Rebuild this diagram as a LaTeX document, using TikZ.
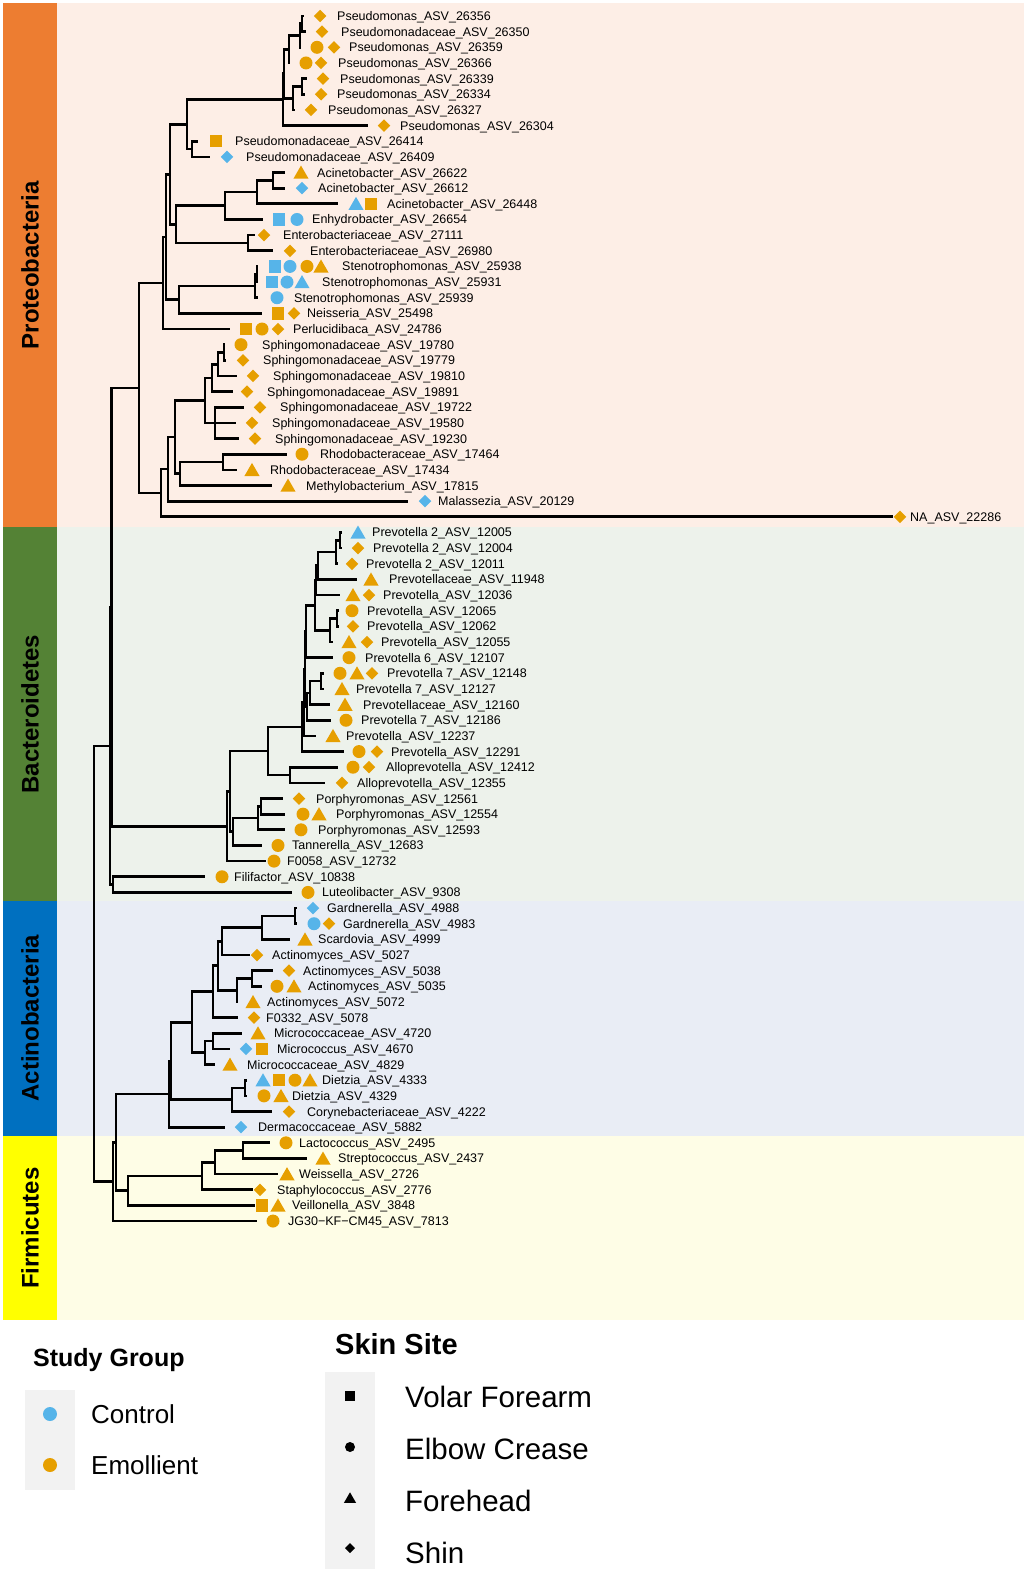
\documentclass[tikz,border=0pt]{standalone}
\usepackage{fontspec}
\setmainfont{Liberation Sans}
\usetikzlibrary{calc,shapes.geometric}
\definecolor{cO}{HTML}{E69F00}
\definecolor{cB}{HTML}{56B4E9}
\definecolor{bgP}{HTML}{FDEEE6}
\definecolor{bgB}{HTML}{EDF2EB}
\definecolor{bgA}{HTML}{E9EDF5}
\definecolor{bgF}{HTML}{FEFDE6}
\definecolor{barP}{HTML}{ED7D31}
\definecolor{barB}{HTML}{548235}
\definecolor{barA}{HTML}{0070C0}
\definecolor{barF}{HTML}{FFFF00}
\definecolor{keybg}{HTML}{F2F2F2}
\pgfmathdeclarefunction{ty}{1}{\pgfmathparse{16+15.65*(#1-1)}}
\tikzset{
  br/.style={line width=2.7pt, draw=black},
  lab/.style={anchor=base west, inner sep=0pt, font=\fontsize{12.5}{14}\selectfont},
  mkb/.style={inner sep=0pt, outer sep=0pt, draw=none},
  mdia/.style={mkb, diamond, minimum width=12.5pt, minimum height=12.5pt},
  mcir/.style={mkb, circle, minimum size=13pt},
  msq/.style={mkb, rectangle, minimum size=12.5pt},
  mtri/.style={mkb, regular polygon, regular polygon sides=3, minimum size=17.5pt, yshift=-1.8pt},
  Od/.style={mdia, fill=cO}, Bd/.style={mdia, fill=cB},
  Oc/.style={mcir, fill=cO}, Bc/.style={mcir, fill=cB},
  Os/.style={msq, fill=cO}, Bs/.style={msq, fill=cB},
  Ot/.style={mtri, fill=cO}, Bt/.style={mtri, fill=cB},
  phyl/.style={rotate=90, inner sep=0pt, font=\bfseries\fontsize{24}{28}\selectfont},
  legh/.style={anchor=base west, inner sep=0pt, font=\bfseries\fontsize{25}{30}\selectfont},
  legt/.style={anchor=base west, inner sep=0pt, font=\fontsize{26}{30}\selectfont},
  legs/.style={anchor=base west, inner sep=0pt, font=\fontsize{29.5}{34}\selectfont},
}
\newcommand\tip[4]{\coordinate (t#1) at (#2,{-ty(#1)});
  \node[lab] (l#1) at (#3,{-ty(#1)-4.5}) {#4};}
\newcommand\mk[3]{\node[#2] (m#1x#3) at (#3,{-ty(#1)}) {};}
\newcommand\inode[4]{%
  \path let \p1=($(#3)!.5!(#4)$) in (#2pt,\y1) coordinate (#1);
  \draw[br] (#1) |- (#3) (#1) |- (#4);}
\newcommand\inodeiii[5]{%
  \path let \p1=($(#3)!.5!(#5)$) in (#2pt,\y1) coordinate (#1);
  \draw[br] (#1) |- (#3) (#1) |- (#4) (#1) |- (#5);}
\begin{document}
\begin{tikzpicture}[x=1pt,y=1pt]
\useasboundingbox (0,0) rectangle (1024,-1569);
% bands
\fill[bgP] (57,-3) rectangle (1024,-527);
\fill[bgB] (57,-527) rectangle (1024,-901);
\fill[bgA] (57,-901) rectangle (1024,-1136);
\fill[bgF] (57,-1136) rectangle (1024,-1320);
\fill[barP] (3,-3) rectangle (57,-527);
\fill[barB] (3,-527) rectangle (57,-901);
\fill[barA] (3,-901) rectangle (57,-1136);
\fill[barF] (3,-1136) rectangle (57,-1320);
\node[phyl] (pP) at (30,-265) {Proteobacteria};
\node[phyl] (pB) at (30,-714) {Bacteroidetes};
\node[phyl] (pA) at (30,-1018) {Actinobacteria};
\node[phyl] (pF) at (30,-1228) {Firmicutes};
% tips
\tip{1}{304}{337}{Pseudomonas\_ASV\_26356}\mk{1}{Od}{320}
\tip{2}{306}{341}{Pseudomonadaceae\_ASV\_26350}\mk{2}{Od}{322}
\tip{3}{301}{349}{Pseudomonas\_ASV\_26359}\mk{3}{Oc}{317}\mk{3}{Od}{334}
\tip{4}{290}{338}{Pseudomonas\_ASV\_26366}\mk{4}{Oc}{306}\mk{4}{Od}{321}
\tip{5}{307}{340}{Pseudomonas\_ASV\_26339}\mk{5}{Od}{323}
\tip{6}{305}{337}{Pseudomonas\_ASV\_26334}\mk{6}{Od}{321}
\tip{7}{295}{328}{Pseudomonas\_ASV\_26327}\mk{7}{Od}{311}
\tip{8}{368}{400}{Pseudomonas\_ASV\_26304}\mk{8}{Od}{384}
\tip{9}{198}{235}{Pseudomonadaceae\_ASV\_26414}\mk{9}{Os}{216}
\tip{10}{210}{246}{Pseudomonadaceae\_ASV\_26409}\mk{10}{Bd}{227}
\tip{11}{285}{317}{Acinetobacter\_ASV\_26622}\mk{11}{Ot}{301}
\tip{12}{285}{318}{Acinetobacter\_ASV\_26612}\mk{12}{Bd}{302}
\tip{13}{338}{387}{Acinetobacter\_ASV\_26448}\mk{13}{Bt}{356}\mk{13}{Os}{371}
\tip{14}{263}{312}{Enhydrobacter\_ASV\_26654}\mk{14}{Bs}{279}\mk{14}{Bc}{297}
\tip{15}{255}{283}{Enterobacteriaceae\_ASV\_27111}\mk{15}{Od}{264}
\tip{16}{273}{310}{Enterobacteriaceae\_ASV\_26980}\mk{16}{Od}{290}
\tip{17}{258}{342}{Stenotrophomonas\_ASV\_25938}\mk{17}{Bs}{275}\mk{17}{Bc}{290}\mk{17}{Oc}{307}\mk{17}{Ot}{321}
\tip{18}{258}{322}{Stenotrophomonas\_ASV\_25931}\mk{18}{Bs}{272}\mk{18}{Bc}{287}\mk{18}{Bt}{302}
\tip{19}{258}{294}{Stenotrophomonas\_ASV\_25939}\mk{19}{Bc}{277}
\tip{20}{262}{307}{Neisseria\_ASV\_25498}\mk{20}{Os}{278}\mk{20}{Od}{294}
\tip{21}{230}{293}{Perlucidibaca\_ASV\_24786}\mk{21}{Os}{246}\mk{21}{Oc}{262}\mk{21}{Od}{278}
\tip{22}{225}{262}{Sphingomonadaceae\_ASV\_19780}\mk{22}{Oc}{241}
\tip{23}{226}{263}{Sphingomonadaceae\_ASV\_19779}\mk{23}{Od}{243}
\tip{24}{237}{273}{Sphingomonadaceae\_ASV\_19810}\mk{24}{Od}{253}
\tip{25}{233}{267}{Sphingomonadaceae\_ASV\_19891}\mk{25}{Od}{247}
\tip{26}{244}{280}{Sphingomonadaceae\_ASV\_19722}\mk{26}{Od}{260}
\tip{27}{236}{272}{Sphingomonadaceae\_ASV\_19580}\mk{27}{Od}{252}
\tip{28}{239}{275}{Sphingomonadaceae\_ASV\_19230}\mk{28}{Od}{255}
\tip{29}{287}{320}{Rhodobacteraceae\_ASV\_17464}\mk{29}{Oc}{302}
\tip{30}{237}{270}{Rhodobacteraceae\_ASV\_17434}\mk{30}{Ot}{252}
\tip{31}{272}{306}{Methylobacterium\_ASV\_17815}\mk{31}{Ot}{288}
\tip{32}{408}{438}{Malassezia\_ASV\_20129}\mk{32}{Bd}{425}
\tip{33}{893}{910}{NA\_ASV\_22286}\mk{33}{Od}{900}
\tip{34}{342}{372}{Prevotella 2\_ASV\_12005}\mk{34}{Bt}{358}
\tip{35}{342}{373}{Prevotella 2\_ASV\_12004}\mk{35}{Od}{358}
\tip{36}{338}{366}{Prevotella 2\_ASV\_12011}\mk{36}{Od}{352}
\tip{37}{357}{389}{Prevotellaceae\_ASV\_11948}\mk{37}{Ot}{371}
\tip{38}{340}{383}{Prevotella\_ASV\_12036}\mk{38}{Ot}{353}\mk{38}{Od}{369}
\tip{39}{339}{367}{Prevotella\_ASV\_12065}\mk{39}{Oc}{352}
\tip{40}{339}{367}{Prevotella\_ASV\_12062}\mk{40}{Od}{353}
\tip{41}{333}{381}{Prevotella\_ASV\_12055}\mk{41}{Ot}{349}\mk{41}{Od}{367}
\tip{42}{333}{365}{Prevotella 6\_ASV\_12107}\mk{42}{Oc}{349}
\tip{43}{324}{387}{Prevotella 7\_ASV\_12148}\mk{43}{Oc}{340}\mk{43}{Ot}{357}\mk{43}{Od}{372}
\tip{44}{324}{356}{Prevotella 7\_ASV\_12127}\mk{44}{Ot}{342}
\tip{45}{330}{363}{Prevotellaceae\_ASV\_12160}\mk{45}{Ot}{345}
\tip{46}{331}{361}{Prevotella 7\_ASV\_12186}\mk{46}{Oc}{346}
\tip{47}{316}{346}{Prevotella\_ASV\_12237}\mk{47}{Ot}{333}
\tip{48}{344}{391}{Prevotella\_ASV\_12291}\mk{48}{Oc}{359}\mk{48}{Od}{377}
\tip{49}{338}{386}{Alloprevotella\_ASV\_12412}\mk{49}{Oc}{353}\mk{49}{Od}{369}
\tip{50}{325}{357}{Alloprevotella\_ASV\_12355}\mk{50}{Od}{342}
\tip{51}{283}{316}{Porphyromonas\_ASV\_12561}\mk{51}{Od}{299}
\tip{52}{285}{336}{Porphyromonas\_ASV\_12554}\mk{52}{Oc}{303}\mk{52}{Ot}{319}
\tip{53}{285}{318}{Porphyromonas\_ASV\_12593}\mk{53}{Oc}{301}
\tip{54}{262}{292}{Tannerella\_ASV\_12683}\mk{54}{Oc}{278}
\tip{55}{266}{287}{F0058\_ASV\_12732}\mk{55}{Oc}{274}
\tip{56}{205}{234}{Filifactor\_ASV\_10838}\mk{56}{Oc}{222}
\tip{57}{292}{322}{Luteolibacter\_ASV\_9308}\mk{57}{Oc}{308}
\tip{58}{297}{327}{Gardnerella\_ASV\_4988}\mk{58}{Bd}{313}
\tip{59}{297}{343}{Gardnerella\_ASV\_4983}\mk{59}{Bc}{314}\mk{59}{Od}{329}
\tip{60}{290}{318}{Scardovia\_ASV\_4999}\mk{60}{Ot}{305}
\tip{61}{250}{272}{Actinomyces\_ASV\_5027}\mk{61}{Od}{257}
\tip{62}{273}{303}{Actinomyces\_ASV\_5038}\mk{62}{Od}{289}
\tip{63}{262}{308}{Actinomyces\_ASV\_5035}\mk{63}{Oc}{277}\mk{63}{Ot}{294}
\tip{64}{238}{267}{Actinomyces\_ASV\_5072}\mk{64}{Ot}{253}
\tip{65}{238}{266}{F0332\_ASV\_5078}\mk{65}{Od}{254}
\tip{66}{242}{274}{Micrococcaceae\_ASV\_4720}\mk{66}{Ot}{258}
\tip{67}{230}{277}{Micrococcus\_ASV\_4670}\mk{67}{Bd}{246}\mk{67}{Os}{262}
\tip{68}{215}{247}{Micrococcaceae\_ASV\_4829}\mk{68}{Ot}{230}
\tip{69}{247}{322}{Dietzia\_ASV\_4333}\mk{69}{Bt}{263}\mk{69}{Os}{279}\mk{69}{Oc}{295}\mk{69}{Ot}{310}
\tip{70}{247}{292}{Dietzia\_ASV\_4329}\mk{70}{Oc}{264}\mk{70}{Ot}{281}
\tip{71}{272}{307}{Corynebacteriaceae\_ASV\_4222}\mk{71}{Od}{289}
\tip{72}{225}{258}{Dermacoccaceae\_ASV\_5882}\mk{72}{Bd}{241}
\tip{73}{270}{299}{Lactococcus\_ASV\_2495}\mk{73}{Oc}{286}
\tip{74}{307}{338}{Streptococcus\_ASV\_2437}\mk{74}{Ot}{323}
\tip{75}{278}{299}{Weissella\_ASV\_2726}\mk{75}{Ot}{287}
\tip{76}{253}{277}{Staphylococcus\_ASV\_2776}\mk{76}{Od}{260}
\tip{77}{255}{292}{Veillonella\_ASV\_3848}\mk{77}{Os}{262}\mk{77}{Ot}{278}
\tip{78}{257}{288}{JG30−KF−CM45\_ASV\_7813}\mk{78}{Oc}{273}
% Proteobacteria tree
\inode{A12}{302}{t1}{t2}
\inode{B3}{300}{A12}{t3}
\inode{C4}{289}{B3}{t4}
\inode{F56}{302}{t5}{t6}
\inode{E7}{293}{F56}{t7}
\inode{D1}{284}{C4}{E7}
\inode{D2}{283}{D1}{t8}
\inode{N910}{192}{t9}{t10}
\inode{G}{187}{D2}{N910}
\inode{N1112}{273}{t11}{t12}
\inode{Nac}{257}{N1112}{t13}
\inode{Nace}{225}{Nac}{t14}
\inode{Nent}{248}{t15}{t16}
\inode{Nae}{176}{Nace}{Nent}
\inode{I}{170}{G}{Nae}
\inode{S1718}{257}{t17}{t18}
\inode{Sst}{255}{S1718}{t19}
\inode{SN}{179}{Sst}{t20}
\inode{M1}{166}{I}{SN}
\inode{M2}{163}{M1}{t21}
\inode{S1}{224}{t22}{t23}
\inode{S2}{218}{S1}{t24}
\inode{S3}{212}{S2}{t25}
\inodeiii{S4}{215}{t26}{t27}{t28}
\inode{S5}{205}{S3}{S4}
\inode{Rh}{223}{t29}{t30}
\inode{RhM}{180}{Rh}{t31}
\inode{SphR}{175}{S5}{RhM}
\inode{SphRM}{168}{SphR}{t32}
\inode{K}{161}{SphRM}{t33}
\inode{L}{139}{M2}{K}
% Bacteroidetes tree
\inode{N3435}{340}{t34}{t35}
\inode{N36}{336}{N3435}{t36}
\inode{Pa}{318}{N36}{t37}
\inode{Pb}{316}{Pa}{t38}
\inode{Pd1}{337}{t39}{t40}
\inode{Pd}{330}{Pd1}{t41}
\inode{Pc}{315}{Pb}{Pd}
\inode{Pe}{306}{Pc}{t42}
\inode{P7a}{321}{t43}{t44}
\inode{P7b}{310}{P7a}{t45}
\inode{P7c}{307}{P7b}{t46}
\inode{Q}{305}{Pe}{P7c}
\inode{R}{304}{Q}{t47}
\inode{PrevG}{302}{R}{t48}
\inode{Allo}{290}{t49}{t50}
\inode{PrevAllo}{268}{PrevG}{Allo}
\inode{Po1}{261}{t51}{t52}
\inode{Po2}{258}{Po1}{t53}
\inode{Q1}{233}{Po2}{t54}
\inode{Q2}{230}{PrevAllo}{Q1}
\inode{Bact}{227}{Q2}{t55}
\inode{FL}{113}{t56}{t57}
% Actinobacteria tree
\inode{G12}{295}{t58}{t59}
\inode{Ga}{262}{G12}{t60}
\inode{Gb}{222}{Ga}{t61}
\inode{A1}{252}{t62}{t63}
\inode{A2}{237}{A1}{t64}
\inode{G3}{218}{Gb}{A2}
\inode{G4}{213}{G3}{t65}
\inode{Mc1}{213}{t66}{t67}
\inode{Mc2}{205}{Mc1}{t68}
\inode{G5}{192}{G4}{Mc2}
\inode{Dz1}{245}{t69}{t70}
\inode{Dz2}{232}{Dz1}{t71}
\inode{G6}{171}{G5}{Dz2}
\inode{Act}{169}{G6}{t72}
% Firmicutes tree
\inode{F1}{243}{t73}{t74}
\inode{F2}{215}{F1}{t75}
\inode{F3}{202}{F2}{t76}
\inode{F4}{128}{F3}{t77}
\inode{F5}{116}{Act}{F4}
\inode{F6}{113}{F5}{t78}
% backbone
\inode{B1}{111.5}{L}{Bact}
\inode{B2}{110}{B1}{FL}
\inode{Root}{94}{B2}{F6}
% legend
\node[legh] (sg) at (33,-1366) {Study Group};
\fill[keybg] (25,-1390) rectangle (75,-1490);
\node[mcir, fill=cB, minimum size=14pt] (kc) at (50,-1414) {};
\node[mcir, fill=cO, minimum size=14pt] (ke) at (50,-1465) {};
\node[legt] (tc) at (91,-1423.5) {Control};
\node[legt] (te) at (91,-1474.5) {Emollient};
\node[legh, font=\bfseries\fontsize{29}{34}\selectfont] (ss) at (335,-1354) {Skin Site};
\fill[keybg] (325,-1372) rectangle (375,-1569);
\node[msq, fill=black, minimum size=10pt] (ks1) at (350,-1396) {};
\node[mcir, fill=black, minimum size=10pt] (ks2) at (350,-1447) {};
\node[mtri, fill=black, minimum size=14pt, yshift=-0.5pt] (ks3) at (350,-1497) {};
\node[mdia, fill=black, minimum width=10pt, minimum height=10pt] (ks4) at (350,-1548) {};
\node[legs] (ts1) at (405,-1407.5) {Volar Forearm};
\node[legs] (ts2) at (405,-1459.5) {Elbow Crease};
\node[legs] (ts3) at (405,-1511.5) {Forehead};
\node[legs] (ts4) at (405,-1563.5) {Shin};
\end{tikzpicture}
\end{document}
